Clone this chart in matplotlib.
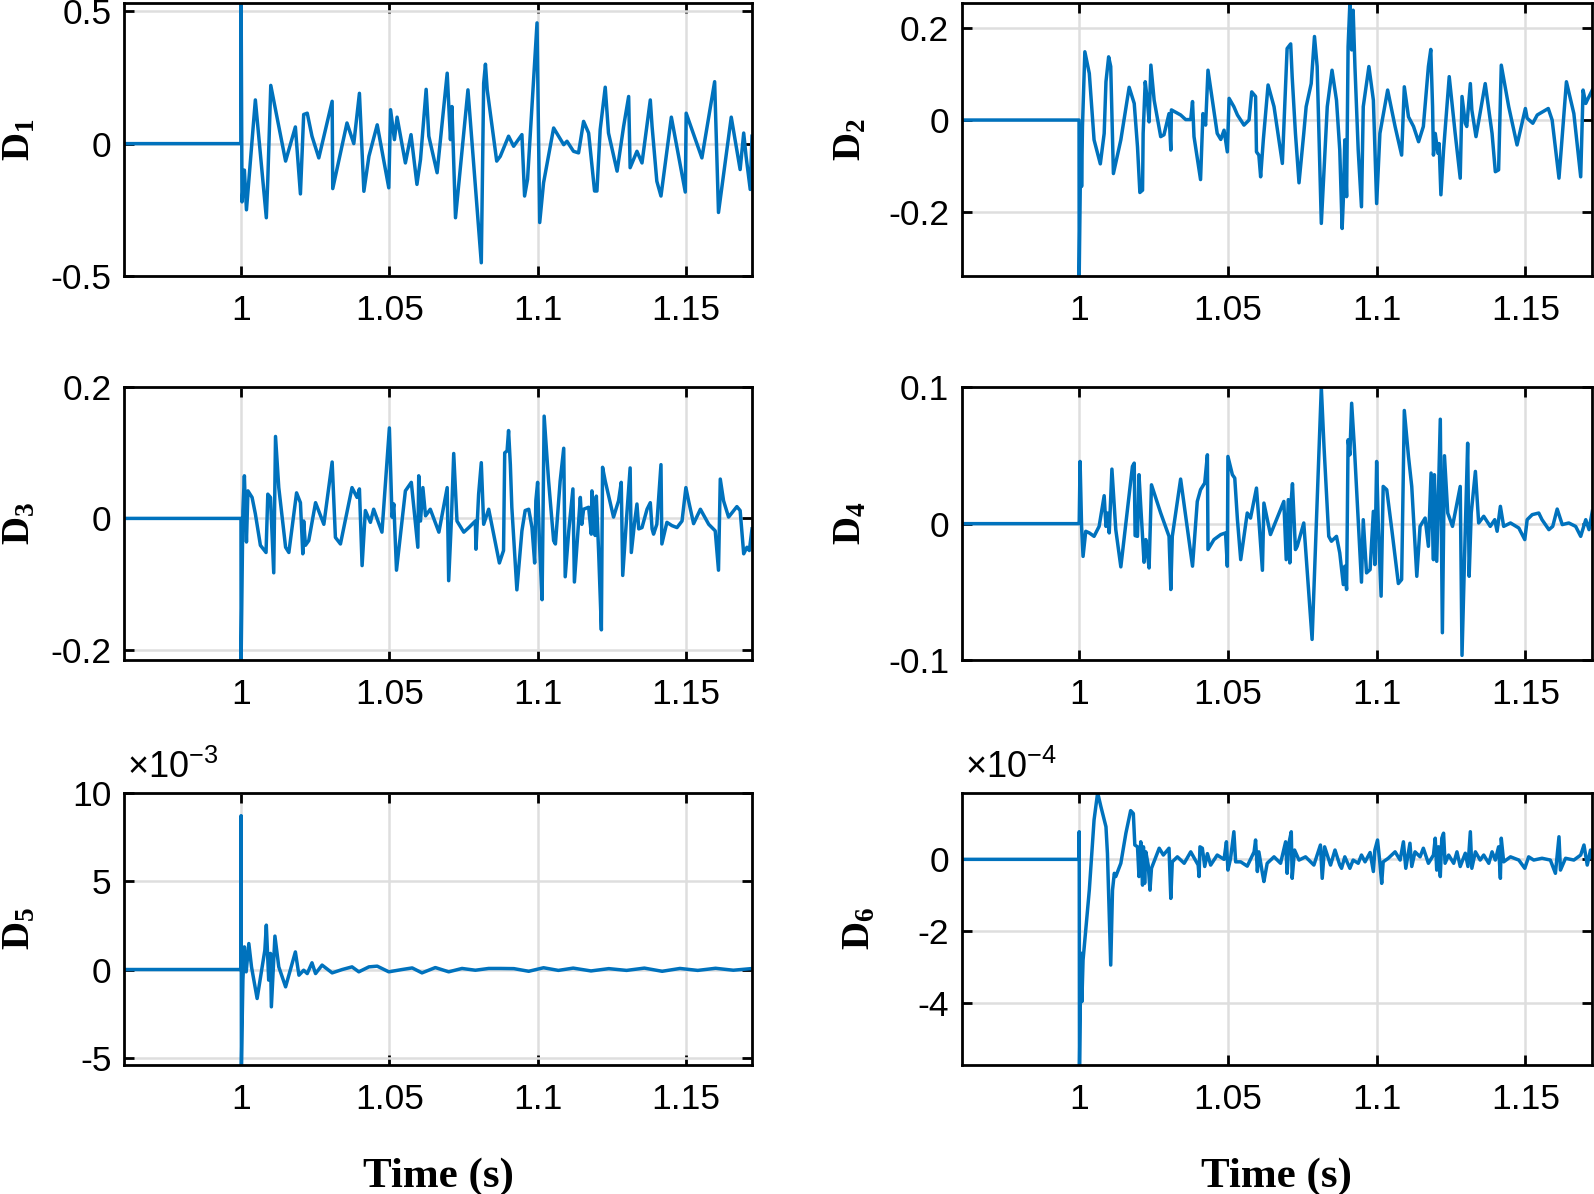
import matplotlib
matplotlib.use("Agg")
import matplotlib.pyplot as plt

plt.rcParams['font.family'] = ['Liberation Sans', 'DejaVu Sans']
plt.rcParams['axes.unicode_minus'] = False
plt.rcParams['mathtext.fontset'] = 'custom'
plt.rcParams['mathtext.rm'] = 'Liberation Sans'
plt.rcParams['mathtext.bf'] = 'Liberation Serif:bold'
plt.rcParams['mathtext.it'] = 'Liberation Sans:italic'

# ---------------- data (time in s) ----------------
d1_t = [0.9600, 0.9999, 1.0000, 1.0003, 1.0011, 1.0018, 1.0048, 1.0085, 1.0090, 1.0100, 1.0150, 1.0183,
        1.0200, 1.0211, 1.0223, 1.0239, 1.0262, 1.0307, 1.0309, 1.0357, 1.0380, 1.0399, 1.0414, 1.0431,
        1.0459, 1.0498, 1.0504, 1.0517, 1.0526, 1.0554, 1.0573, 1.0593, 1.0605, 1.0624, 1.0633, 1.0661,
        1.0695, 1.0706, 1.0711, 1.0723, 1.0765, 1.0810, 1.0818, 1.0824, 1.0830, 1.0862, 1.0874, 1.0902,
        1.0919, 1.0947, 1.0956, 1.0966, 1.0998, 1.1007, 1.1020, 1.1054, 1.1088, 1.1099, 1.1121, 1.1138,
        1.1155, 1.1172, 1.1192, 1.1200, 1.1211, 1.1228, 1.1239, 1.1268, 1.1290, 1.1307, 1.1312, 1.1335,
        1.1352, 1.1380, 1.1386, 1.1402, 1.1416, 1.1451, 1.1498, 1.1501, 1.1554, 1.1597, 1.1610, 1.1653,
        1.1683, 1.1695, 1.1703, 1.1717, 1.1723]
d1_v = [0, 0, 0.53, -0.22, -0.10, -0.25, 0.165, -0.28, -0.135, 0.22, -0.066, 0.063,
        -0.19, 0.11, 0.115, 0.028, -0.054, 0.16, -0.17, 0.078, 0.0, 0.19, -0.18, -0.048,
        0.071, -0.167, 0.128, 0.015, 0.10, -0.073, 0.034, -0.154, -0.06, 0.205, 0.028, -0.11,
        0.266, 0.015, 0.14, -0.28, 0.203, -0.45, 0.228, 0.30, 0.203, -0.066, -0.048, 0.028,
        -0.01, 0.034, -0.198, -0.135, 0.456, -0.298, -0.148, 0.059, -0.004, 0.009, -0.029, -0.035,
        0.084, 0.04, -0.179, -0.179, 0.053, 0.213, 0.04, -0.104, 0.065, 0.178, -0.091, -0.029,
        -0.073, 0.165, 0.065, -0.142, -0.198, 0.10, -0.183, 0.115, -0.054, 0.234, -0.26, 0.10,
        -0.098, 0.04, -0.048, -0.173, 0.028]

d2_t = [0.9600, 0.99995, 1.0000, 1.0006, 1.0008, 1.0011, 1.0019, 1.0034, 1.0050, 1.0071, 1.0084, 1.0090,
        1.0099, 1.0106, 1.0115, 1.0140, 1.0168, 1.0185, 1.0196, 1.0204, 1.0213, 1.0215, 1.0222, 1.0229,
        1.0235, 1.0241, 1.0252, 1.0274, 1.0285, 1.0302, 1.0308, 1.0310, 1.0341, 1.0358, 1.0375, 1.0381,
        1.0386, 1.0408, 1.0416, 1.0425, 1.0433, 1.0464, 1.0476, 1.0487, 1.0498, 1.0504, 1.0520, 1.0532,
        1.0554, 1.0571, 1.0580, 1.0593, 1.0596, 1.0604, 1.0610, 1.0619, 1.0635, 1.0655, 1.0683, 1.0699,
        1.0711, 1.0716, 1.0727, 1.0739, 1.0755, 1.0763, 1.0780, 1.0791, 1.0800, 1.0814, 1.0834, 1.0850,
        1.0865, 1.0876, 1.0884, 1.0888, 1.0893, 1.0899, 1.0904, 1.0910, 1.0916, 1.0921, 1.0927, 1.0938,
        1.0949, 1.0955, 1.0974, 1.0989, 1.1000, 1.1011, 1.1037, 1.1062, 1.1084, 1.1093, 1.1107, 1.1124,
        1.1141, 1.1157, 1.1174, 1.1182, 1.1188, 1.1191, 1.1197, 1.1206, 1.1210, 1.1216, 1.1225, 1.1244,
        1.1264, 1.1281, 1.1287, 1.1298, 1.1303, 1.1315, 1.1320, 1.1334, 1.1365, 1.1388, 1.1399, 1.1410,
        1.1419, 1.1444, 1.1472, 1.1500, 1.1506, 1.1525, 1.1540, 1.1577, 1.1590, 1.1613, 1.1638, 1.1663,
        1.1686, 1.1694, 1.1703, 1.1708, 1.1725]
d2_v = [0, 0, -0.338, -0.014, -0.144, -0.014, 0.148, 0.101, -0.043, -0.095, -0.029, 0.083,
        0.137, 0.116, -0.116, -0.043, 0.071, 0.036, -0.058, -0.157, -0.152, -0.029, 0.083, 0.043,
        -0.004, 0.119, 0.043, -0.036, -0.032, 0.014, -0.065, 0.022, 0.011, 0.001, 0.001, 0.040,
        -0.036, -0.129, 0.014, -0.011, 0.108, -0.029, -0.042, -0.022, -0.069, 0.047, 0.029, 0.011,
        -0.011, 0.0, 0.061, 0.051, -0.069, -0.076, -0.123, -0.043, 0.076, 0.029, -0.094, 0.155,
        0.165, 0.094, -0.029, -0.136, -0.029, 0.029, 0.079, 0.181, 0.116, -0.224, 0.029, 0.108,
        0.043, -0.065, -0.235, -0.173, -0.043, -0.166, 0.159, 0.253, 0.152, 0.238, 0.116, -0.065,
        -0.188, 0.029, 0.116, 0.043, -0.181, -0.029, 0.065, -0.014, -0.076, 0.072, 0.007, -0.014,
        -0.047, -0.014, 0.116, 0.153, 0.029, -0.076, -0.029, -0.072, -0.051, -0.162, -0.065, 0.094,
        -0.029, -0.126, 0.051, -0.007, -0.014, 0.079, 0.022, -0.036, 0.079, -0.029, -0.112, -0.108,
        0.119, 0.029, -0.054, 0.025, 0.004, -0.007, 0.011, 0.025, 0.0, -0.126, 0.083, 0.014,
        -0.123, 0.065, 0.036, 0.043, 0.065]

d3_t = [0.9600, 0.99995, 1.0000, 1.0006, 1.0011, 1.0018, 1.0023, 1.0037, 1.0048, 1.0065, 1.0084, 1.0090,
        1.0099, 1.0110, 1.0116, 1.0127, 1.0150, 1.0161, 1.0187, 1.0200, 1.0208, 1.0211, 1.0217, 1.0228,
        1.0251, 1.0279, 1.0307, 1.0318, 1.0335, 1.0374, 1.0391, 1.0399, 1.0408, 1.0419, 1.0436, 1.0447,
        1.0475, 1.0500, 1.0509, 1.0515, 1.0524, 1.0554, 1.0574, 1.0596, 1.0599, 1.0605, 1.0613, 1.0622,
        1.0638, 1.0667, 1.0695, 1.0700, 1.0709, 1.0717, 1.0728, 1.0751, 1.0768, 1.0790, 1.0792, 1.0801,
        1.0810, 1.0818, 1.0835, 1.0871, 1.0885, 1.0889, 1.0897, 1.0902, 1.0908, 1.0913, 1.0930, 1.0947,
        1.0958, 1.0970, 1.0981, 1.0990, 1.0994, 1.1000, 1.1006, 1.1015, 1.1022, 1.1037, 1.1054, 1.1060,
        1.1076, 1.1088, 1.1093, 1.1105, 1.1119, 1.1124, 1.1144, 1.1149, 1.1155, 1.1172, 1.1181, 1.1183,
        1.1189, 1.1194, 1.1198, 1.1206, 1.1215, 1.1219, 1.1228, 1.1256, 1.1273, 1.1282, 1.1287, 1.1301,
        1.1312, 1.1316, 1.1327, 1.1335, 1.1341, 1.1352, 1.1369, 1.1380, 1.1386, 1.1391, 1.1402, 1.1416,
        1.1419, 1.1436, 1.1453, 1.1470, 1.1487, 1.1500, 1.1509, 1.1526, 1.1549, 1.1577, 1.1599, 1.1610,
        1.1616, 1.1627, 1.1644, 1.1672, 1.1683, 1.1695, 1.1706, 1.1714, 1.1723]
d3_v = [0, 0, -0.216, 0.012, 0.065, -0.036, 0.042, 0.032, 0.007, -0.041, -0.052, 0.037,
        0.032, -0.083, 0.125, 0.047, -0.044, -0.052, 0.039, 0.024, -0.054, -0.004, -0.041, -0.034,
        0.024, -0.009, 0.086, -0.029, -0.039, 0.047, 0.032, 0.045, -0.072, 0.012, -0.006, 0.014,
        -0.021, 0.138, 0.002, 0.022, -0.079, 0.042, 0.055, -0.044, 0.065, -0.004, 0.047, 0.004,
        0.014, -0.021, 0.047, -0.095, -0.004, 0.099, -0.004, -0.021, -0.014, -0.004, -0.047, 0.037,
        0.085, -0.009, 0.014, -0.068, -0.049, 0.100, 0.103, 0.134, 0.082, 0.017, -0.109, -0.019,
        0.012, 0.014, -0.014, -0.068, 0.027, 0.055, -0.034, -0.124, 0.156, 0.057, -0.034, -0.039,
        0.057, 0.107, -0.089, -0.019, 0.045, -0.097, 0.032, -0.009, 0.014, 0.017, -0.024, 0.042,
        0.007, -0.026, 0.034, -0.054, -0.170, 0.078, 0.057, 0.002, 0.027, 0.055, -0.087, 0.007,
        0.077, -0.052, -0.006, 0.022, -0.016, -0.014, 0.014, 0.024, -0.016, -0.024, -0.009, 0.082,
        -0.039, -0.006, -0.011, -0.014, -0.004, 0.047, 0.027, -0.008, 0.014, -0.009, -0.019, -0.079,
        0.060, 0.027, 0.002, 0.018, 0.012, -0.054, -0.044, -0.049, -0.016]

d4_t = [0.9600, 0.99995, 1.0000, 1.0003, 1.0008, 1.0013, 1.0022, 1.0034, 1.0050, 1.0067, 1.0084, 1.0090,
        1.0095, 1.0101, 1.0110, 1.0123, 1.0140, 1.0162, 1.0179, 1.0185, 1.0188, 1.0196, 1.0201, 1.0207,
        1.0218, 1.0224, 1.0229, 1.0235, 1.0243, 1.0274, 1.0302, 1.0308, 1.0313, 1.0341, 1.0381, 1.0397,
        1.0408, 1.0422, 1.0431, 1.0433, 1.0453, 1.0476, 1.0492, 1.0498, 1.0500, 1.0515, 1.0523, 1.0532,
        1.0543, 1.0565, 1.0576, 1.0596, 1.0604, 1.0616, 1.0621, 1.0643, 1.0688, 1.0696, 1.0703, 1.0708,
        1.0713, 1.0717, 1.0727, 1.0733, 1.0755, 1.0783, 1.0814, 1.0823, 1.0839, 1.0848, 1.0865, 1.0876,
        1.0888, 1.0893, 1.0899, 1.0904, 1.0910, 1.0916, 1.0925, 1.0938, 1.0949, 1.0955, 1.0966, 1.0978,
        1.0989, 1.0994, 1.1000, 1.1006, 1.1015, 1.1022, 1.1034, 1.1051, 1.1073, 1.1084, 1.1093, 1.1107,
        1.1118, 1.1135, 1.1146, 1.1163, 1.1174, 1.1183, 1.1191, 1.1194, 1.1202, 1.1214, 1.1221, 1.1228,
        1.1239, 1.1255, 1.1281, 1.1287, 1.1298, 1.1306, 1.1311, 1.1318, 1.1332, 1.1343, 1.1360, 1.1382,
        1.1397, 1.1405, 1.1416, 1.1427, 1.1450, 1.1478, 1.1498, 1.1506, 1.1523, 1.1545, 1.1556, 1.1579,
        1.1592, 1.1607, 1.1624, 1.1646, 1.1669, 1.1686, 1.1703, 1.1714, 1.1725]
d4_v = [0, 0, 0.0005, 0.0456, -0.002, -0.024, -0.0056, -0.0068, -0.0093, -0.002, 0.0205, -0.002,
        0.0078, -0.0068, 0.040, -0.0044, -0.0317, 0.0102, 0.042, 0.0444, -0.0088, -0.0093, 0.0359, 0.0127,
        -0.0283, -0.0117, -0.0215, -0.0325, 0.0285, 0.0078, -0.0093, -0.0483, -0.0093, 0.0327, -0.0312, 0.0163,
        0.0249, 0.0298, 0.0505, -0.019, -0.0117, -0.008, -0.0068, -0.0312, 0.0493, 0.0359, 0.0334, 0.0029,
        -0.0264, 0.0078, 0.0041, 0.0261, 0.0029, -0.0342, 0.0151, -0.008, 0.0163, -0.0264, 0.0176, -0.0288,
        0.0176, 0.0293, -0.019, -0.0166, 0.0005, -0.0849, 0.100, 0.0566, -0.0093, -0.0129, -0.0093, -0.0215,
        -0.0447, -0.0312, -0.0483, 0.0615, 0.0505, 0.0883, 0.0566, 0.0029, -0.0429, 0.0029, -0.0361, -0.0337,
        0.009, -0.030, 0.0456, -0.0044, -0.0532, 0.0273, 0.0249, -0.0044, -0.0439, -0.041, 0.083, 0.0493,
        0.0273, -0.0386, -0.002, 0.0041, -0.0166, 0.0371, -0.0264, 0.0359, -0.0276, 0.0766, -0.080, 0.0498,
        0.0078, -0.002, 0.0273, -0.0966, -0.0044, 0.059, -0.0386, 0.0078, 0.0383, 0.0005, 0.0054, -0.002,
        0.0029, -0.0056, 0.0127, -0.002, 0.0005, -0.0032, -0.0117, 0.0029, 0.0066, 0.0078, 0.0029, -0.0044,
        -0.002, 0.0107, -0.0007, 0.0005, -0.002, -0.0093, 0.0029, -0.0044, 0.009]

# D5 values in units of 1e-3
d5_t = [0.9600, 0.99995, 1.0000, 1.0001, 1.0006, 1.0011, 1.0017, 1.0026, 1.0035, 1.0054, 1.0071, 1.0080,
        1.0085, 1.0093, 1.0099, 1.0102, 1.0114, 1.0127, 1.0150, 1.0183, 1.0195, 1.0211, 1.0223, 1.0239,
        1.0251, 1.0273, 1.0307, 1.0341, 1.0374, 1.0397, 1.0431, 1.0459, 1.0498, 1.0543, 1.0577, 1.0610,
        1.0655, 1.0700, 1.0745, 1.0790, 1.0835, 1.0875, 1.0920, 1.0970, 1.1020, 1.1070, 1.1120, 1.1180,
        1.1240, 1.1300, 1.1360, 1.1420, 1.1480, 1.1540, 1.1600, 1.1660, 1.1720]
d5_v = [0, 0, 8.7, -5.4, -0.6, 1.28, -0.13, 1.47, 0.15, -1.64, 0.15, 1.09,
        2.51, -0.6, 0.91, -2.11, 1.89, 0.15, -0.98, 0.996, -0.32, -0.04, -0.23, 0.38,
        -0.23, 0.25, -0.19, 0.0, 0.15, -0.13, 0.15, 0.19, -0.13, 0.0, 0.09, -0.19,
        0.11, -0.13, 0.06, -0.04, 0.06, 0.06, 0.05, -0.10, 0.10, -0.05, 0.08, -0.08,
        0.05, -0.05, 0.08, -0.10, 0.06, -0.05, 0.07, -0.04, 0.05]

# D6 values in units of 1e-4
d6_t = [0.9600, 0.99995, 1.0000, 1.0001, 1.0006, 1.0009, 1.0013, 1.0017, 1.0034, 1.0050, 1.0062, 1.0073,
        1.0090, 1.0095, 1.0101, 1.0106, 1.0112, 1.0118, 1.0123, 1.0140, 1.0157, 1.0173, 1.0182, 1.0187,
        1.0196, 1.0201, 1.0207, 1.0213, 1.0216, 1.0220, 1.0224, 1.0232, 1.0238, 1.0243, 1.0269, 1.0283,
        1.0302, 1.0308, 1.0313, 1.0330, 1.0353, 1.0375, 1.0400, 1.0403, 1.0406, 1.0414, 1.0422, 1.0431,
        1.0442, 1.0464, 1.0487, 1.0495, 1.0500, 1.0509, 1.0520, 1.0526, 1.0543, 1.0565, 1.0588, 1.0593,
        1.0599, 1.0604, 1.0616, 1.0621, 1.0632, 1.0655, 1.0677, 1.0694, 1.0699, 1.0705, 1.0713, 1.0716,
        1.0724, 1.0739, 1.0761, 1.0789, 1.0811, 1.0817, 1.0825, 1.0845, 1.0860, 1.0876, 1.0882, 1.0893,
        1.0910, 1.0921, 1.0938, 1.0949, 1.0961, 1.0978, 1.0989, 1.0994, 1.1003, 1.1011, 1.1017, 1.1022,
        1.1039, 1.1062, 1.1079, 1.1090, 1.1098, 1.1112, 1.1118, 1.1129, 1.1146, 1.1157, 1.1174, 1.1191,
        1.1197, 1.1202, 1.1208, 1.1214, 1.1219, 1.1225, 1.1230, 1.1242, 1.1259, 1.1270, 1.1281, 1.1298,
        1.1307, 1.1315, 1.1320, 1.1332, 1.1348, 1.1360, 1.1377, 1.1388, 1.1399, 1.1410, 1.1416, 1.1419,
        1.1427, 1.1450, 1.1478, 1.1498, 1.1511, 1.1528, 1.1556, 1.1584, 1.1601, 1.1613, 1.1618, 1.1635,
        1.1663, 1.1686, 1.1697, 1.1708, 1.1719, 1.1725]
d6_v = [0, 0, 0.77, -5.74, -2.62, -3.97, -2.81, -2.44, -0.86, 1.10, 1.86, 1.47,
        0.91, 0.16, -1.51, -2.95, -0.86, -0.39, -0.48, -0.11, 0.73, 1.36, 1.28, 0.40,
        0.35, -0.48, 0.49, -0.72, 0.35, -0.67, 0.21, -0.16, -0.86, -0.25, 0.31, 0.12,
        0.31, -1.09, -0.07, 0.07, -0.11, 0.21, -0.16, -0.48, 0.35, 0.31, -0.20, 0.16,
        -0.16, 0.12, 0.0, 0.49, -0.30, 0.03, 0.77, -0.07, -0.07, -0.19, 0.21, 0.54,
        -0.34, 0.21, -0.39, -0.62, -0.11, 0.07, -0.11, 0.49, -0.39, 0.45, 0.77, -0.53,
        0.26, -0.02, 0.07, -0.16, 0.40, -0.53, 0.35, -0.16, 0.26, -0.16, -0.25, 0.07,
        -0.25, -0.02, -0.11, 0.12, -0.07, 0.19, -0.34, 0.26, 0.54, -0.11, -0.67, -0.07,
        0.03, 0.21, -0.02, 0.49, -0.25, 0.45, -0.20, 0.21, 0.07, 0.31, -0.11, 0.12,
        0.59, -0.30, 0.35, -0.48, 0.59, 0.73, -0.11, 0.12, -0.11, 0.21, -0.20, 0.17,
        -0.20, 0.77, -0.25, 0.21, -0.02, 0.12, -0.11, 0.21, -0.02, 0.35, -0.53, 0.59,
        -0.07, 0.07, -0.02, -0.25, 0.07, -0.02, 0.03, -0.02, -0.39, 0.63, -0.30, 0.03,
        -0.02, 0.12, 0.40, -0.16, 0.26, 0.03]

x_ticks = [1.0, 1.05, 1.1, 1.15]
x_ticklabels = ['1', '1.05', '1.1', '1.15']

panels = [
    # t, v, ylim, yticks, yticklabels, label, exponent
    (d1_t, d1_v, (-0.5, 0.53), [-0.5, 0, 0.5], ['-0.5', '0', '0.5'], r'$\mathbf{D_1}$', None),
    (d2_t, d2_v, (-0.338, 0.253), [-0.2, 0, 0.2], ['-0.2', '0', '0.2'], r'$\mathbf{D_2}$', None),
    (d3_t, d3_v, (-0.216, 0.2), [-0.2, 0, 0.2], ['-0.2', '0', '0.2'], r'$\mathbf{D_3}$', None),
    (d4_t, d4_v, (-0.1, 0.1), [-0.1, 0, 0.1], ['-0.1', '0', '0.1'], r'$\mathbf{D_4}$', None),
    (d5_t, d5_v, (-5.4, 10), [-5, 0, 5, 10], ['-5', '0', '5', '10'], r'$\mathbf{D_5}$', '-3'),
    (d6_t, d6_v, (-5.74, 1.86), [-4, -2, 0], ['-4', '-2', '0'], r'$\mathbf{D_6}$', '-4'),
]

W, H = 1594, 1194
fig = plt.figure(figsize=(W / 100, H / 100), dpi=100)

col_left = [124 / W, 961.7 / W]
col_width = [628 / W, 630 / W]
row_bottom = [1 - 276 / H, 1 - 660 / H, 1 - 1065 / H]
row_height = [272.7 / H, 272.7 / H, 272.3 / H]
ylabel_x = [-0.138, -0.148, -0.138, -0.148, -0.138, -0.134]

blue = '#0072BD'
for i, (t, v, ylim, yt, ytl, lab, expo) in enumerate(panels):
    r, c = divmod(i, 2)
    ax = fig.add_axes([col_left[c], row_bottom[r], col_width[c], row_height[r]])
    ax.plot(t, v, color=blue, lw=2.5, solid_joinstyle='round')
    ax.set_xlim(0.9605, 1.1723)
    ax.set_ylim(*ylim)
    ax.set_xticks(x_ticks)
    ax.set_xticklabels(x_ticklabels)
    ax.set_yticks(yt)
    ax.set_yticklabels(ytl)
    ax.grid(True, color='#dedede', lw=1.8)
    ax.set_axisbelow(True)
    for s in ax.spines.values():
        s.set_linewidth(2.0)
    ax.tick_params(direction='in', length=7, width=2, top=True, right=True,
                   labelsize=25.5)
    ax.tick_params(axis='x', pad=13)
    ax.tick_params(axis='y', pad=9)
    ax.set_ylabel(lab, fontsize=28)
    ax.yaxis.set_label_coords(ylabel_x[i], 0.5)
    if r == 2:
        ax.set_xlabel('Time (s)', fontsize=31, fontfamily='Liberation Serif', fontweight='bold')
        ax.xaxis.set_label_coords(0.5, -0.338)
    if expo is not None:
        ax.text(0.005, 1.025, r'$\times$10$^{' + expo + '}$', transform=ax.transAxes,
                ha='left', va='bottom', fontsize=26)

fig.savefig('out.png', dpi=100)
